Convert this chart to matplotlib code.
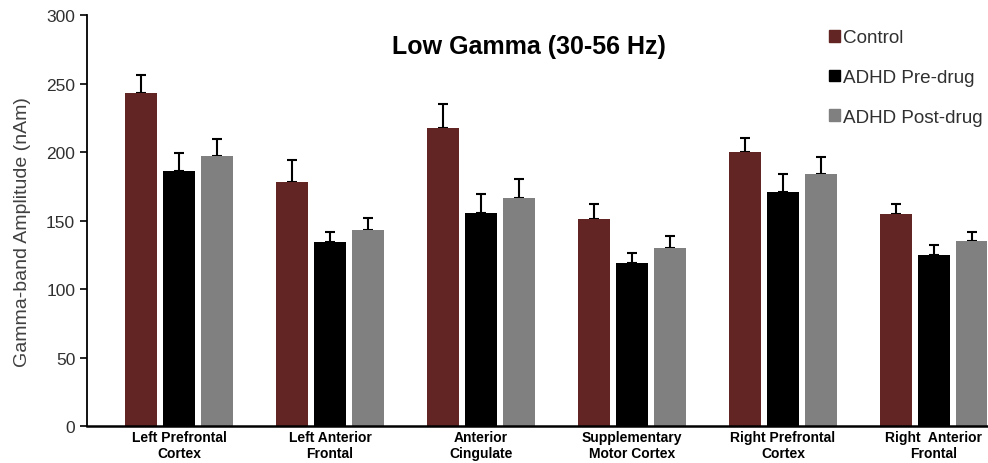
import numpy as np
import matplotlib
matplotlib.use("Agg")
import matplotlib.pyplot as plt
from matplotlib.patches import Patch

regions = ["Left Prefrontal\nCortex", "Left Anterior\nFrontal", "Anterior\nCingulate",
           "Supplementary\nMotor Cortex", "Right Prefrontal\nCortex", "Right  Anterior\nFrontal"]
groups = ["Control", "ADHD Pre-drug", "ADHD Post-drug"]
control = [243, 178.5, 217.6, 151.2, 200.3, 154.6]
control_err = [13, 16, 17.4, 10.8, 9.7, 7.4]
pre_drug = [186, 134.4, 155.4, 119.1, 170.7, 125]
pre_err = [13, 7.6, 14.3, 7.3, 13.3, 7.2]
post_drug = [197, 143.4, 166.5, 130.1, 183.8, 135]
post_err = [12.5, 8.6, 14.1, 8.9, 12.6, 7]
colors = ["#632523", "#000000", "#808080"]

plt.rcParams['font.family'] = ['Liberation Sans', 'DejaVu Sans']

fig = plt.figure(figsize=(9.88, 4.64), dpi=100)
ax = fig.add_axes([87 / 988, 1 - 427.3 / 464, 945 / 988, (427.3 - 16) / 464])

x = np.arange(len(regions))
w = 0.21
step = 0.25
series = [(control, control_err), (pre_drug, pre_err), (post_drug, post_err)]
for k, (vals, errs) in enumerate(series):
    ax.bar(x + (k - 1) * step, vals, w, color=colors[k], zorder=2)
    ax.errorbar(x + (k - 1) * step, vals, yerr=[np.zeros(len(errs)), errs], fmt="none",
                ecolor="black", elinewidth=1.5, capsize=3.5, capthick=1.5, zorder=1)

ax.set_xlim(-0.61, 5.65)
ax.set_ylim(0, 300)
ax.set_yticks(np.arange(0, 301, 50))
ax.set_xticks(x)
ax.set_xticklabels(regions, fontsize=10, fontweight="bold", linespacing=1.1,
                   family=['Liberation Sans Narrow', 'Liberation Sans', 'DejaVu Sans'])
ax.tick_params(axis="x", length=0, pad=3)
ax.tick_params(axis="y", labelsize=12.5, labelcolor="#303030", length=5, width=1.2)
for s in ["top", "right"]:
    ax.spines[s].set_visible(False)
ax.spines["left"].set_linewidth(1.3)
ax.spines["bottom"].set_linewidth(1.8)
ax.set_ylabel("Gamma-band Amplitude (nAm)", fontsize=14, color="#404040")
ax.yaxis.set_label_coords(-0.059, 0.475)

fig.text(529 / 988, 1 - 47 / 464, "Low Gamma (30-56 Hz)", fontsize=18, fontweight="bold",
         ha="center", va="center")

handles = [Patch(color=c) for c in colors]
fig.legend(handles, groups, loc="upper left", bbox_to_anchor=(820 / 988, 1 - 21 / 464),
           frameon=False, fontsize=13.6, handlelength=0.57, handleheight=0.57,
           handletextpad=0.15, labelspacing=1.2, labelcolor="#303030", borderpad=0)

fig.savefig("out.png", dpi=100)
